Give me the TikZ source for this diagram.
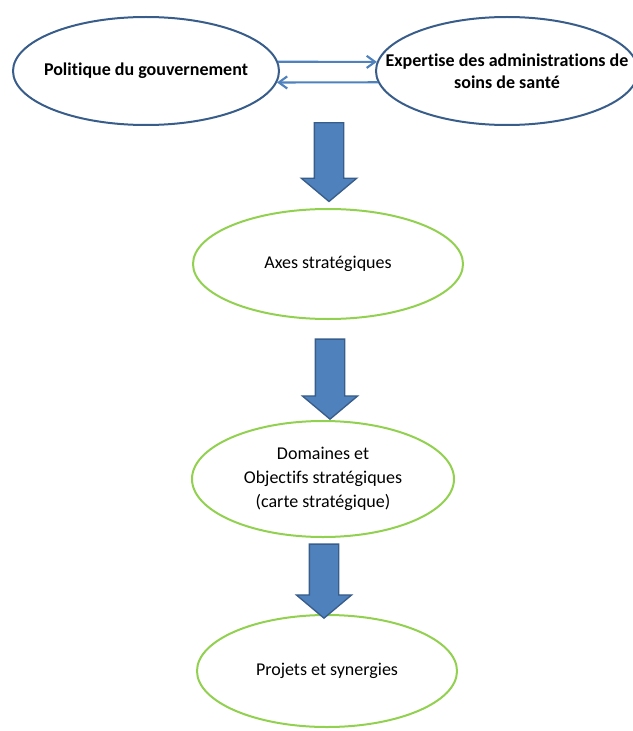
\documentclass[tikz,border=0pt]{standalone}
\usepackage{fontspec}
\setmainfont{Carlito}[Ligatures=NoCommon]
\usetikzlibrary{arrows.meta,positioning,shapes.geometric,shapes.arrows}

\definecolor{officeblue}{HTML}{4F81BD}
\definecolor{outlineblue}{HTML}{385D8A}
\definecolor{leafgreen}{HTML}{92D050}

\begin{document}
\begin{tikzpicture}[x=0.75pt,y=-0.75pt,
  >={Straight Barb[length=2.2mm,width=3.2mm]},
  source/.style={ellipse,draw=outlineblue,line width=1.5pt,
    inner xsep=-40pt,inner ysep=-10pt,
    align=center,font=\fontsize{13.5}{16.5}\selectfont\bfseries},
  stage/.style={ellipse,draw=leafgreen,line width=1.5pt,inner sep=0pt,
    align=center,font=\fontsize{13.5}{18}\selectfont},
  flow/.style={single arrow,rotate=-90,draw=outlineblue,fill=officeblue,
    line width=1pt,inner xsep=0pt,inner ysep=10.5pt,
    single arrow head extend=9.75pt,single arrow tip angle=100}]
  \useasboundingbox (0,0) rectangle (632,731);

  % the two sources, side by side
  \node[source,minimum width=199.5pt,minimum height=81pt] (policy) at (146,71)
    {Politique du gouvernement};
  \node[source,minimum width=196.5pt,minimum height=81pt] (expertise) at (507,71)
    {Expertise des administrations de\\soins de santé};

  \draw[->,officeblue,line width=1.6pt] (policy.4) -- (expertise.176);
  \draw[->,officeblue,line width=1.6pt] (expertise.185) -- (policy.-5);

  % the chain below
  \node[stage,minimum width=202.5pt,minimum height=82.5pt] (axes) at (328,264)
    {Axes stratégiques};
  \node[stage,minimum width=196.5pt,minimum height=87pt] (domains) at (323,479)
    {Domaines et\\Objectifs stratégiques\\(carte stratégique)};
  \node[stage,minimum width=195pt,minimum height=84pt] (projects) at (327,671)
    {Projets et synergies};

  \node[flow,minimum height=59pt] (step1) at (329,156) {};
  \node[flow,minimum height=60pt] (step2) at (330,373) {};
  \node[flow,minimum height=55.5pt] (step3) at (324,575) {};
\end{tikzpicture}
\end{document}
